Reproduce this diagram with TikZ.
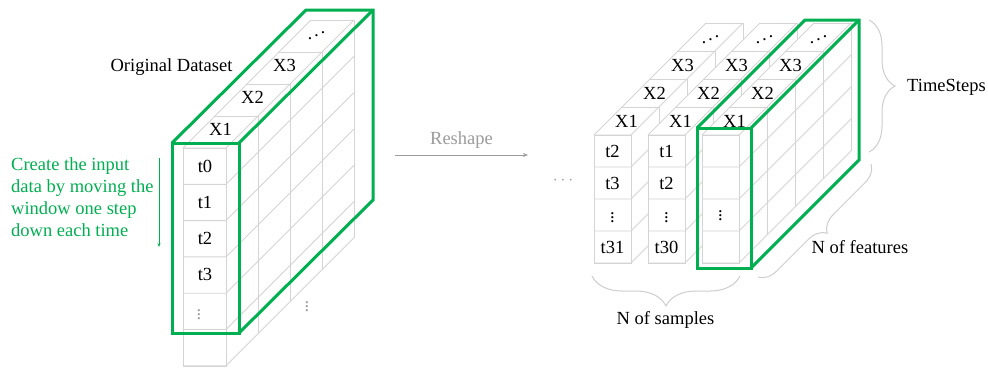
\documentclass[tikz,border=0pt]{standalone}
\usepackage{fontspec}
\setmainfont{Liberation Serif}
\usetikzlibrary{arrows.meta,decorations.pathreplacing}
\definecolor{boxgreen}{RGB}{0,176,80}
\definecolor{gridgray}{RGB}{212,212,212}
\definecolor{bracegray}{RGB}{205,205,205}
\definecolor{labelgray}{RGB}{155,155,155}
\newcommand{\revdots}{\reflectbox{$\ddots$}}

\begin{document}
\begin{tikzpicture}[x=1pt,y=-1pt,
  font=\fontsize{18.5}{22}\selectfont,
  grid/.style={gridgray, line width=0.9pt},
  window/.style={boxgreen, line width=3pt, line join=miter},
  curly/.style={bracegray, line width=1pt, decorate, decoration={brace, amplitude=#1}}]
\useasboundingbox (0,0) rectangle (988,368);

% original dataset block
\draw[grid] (183,148) rectangle (226,366);
\foreach \k in {0,...,6}
  \draw[grid] (183,148+36.3*\k) -- (226,148+36.3*\k) -- ++(128,-128);
\foreach \j in {0,...,4}
  \draw[grid] (183+32*\j,148-32*\j) -- ++(43,0) -- ++(0,218);
\draw[grid] (183,148) -- ++(128,-128);

\foreach \lab [count=\j from 0] in {X1,X2,X3,\revdots}
  \node (x\j) at (220.5+32*\j,129-32*\j) {\lab};
\foreach \lab [count=\k from 0] in {t0,t1,t2,t3}
  \node (t\k) at (205,166+36.3*\k) {\lab};
\node[labelgray] (tdots) at (199,312) {$\vdots$};
\node[labelgray] (sdots) at (307,304) {$\vdots$};

% moving window
\draw[window] (172,143) rectangle (239,333);
\draw[window] (172,143) -- ++(134,-133) -- ++(67,0) -- ++(0,190) -- (239,333);
\draw[window] (239,143) -- ++(134,-133);

\node (orig) at (171.5,67) {Original Dataset};
\node[boxgreen, align=left, anchor=west, inner sep=0pt] (note) at (11,197) {Create the input\\data by moving the\\window one step\\down each time};
\coordinate (down1) at (159,158);
\coordinate (down2) at (159,247);
\draw[boxgreen, line width=0.8pt, -{Stealth[length=4pt,width=3pt]}] (down1) -- (down2);

% reshape
\node[labelgray] (reshape) at (461.5,140) {Reshape};
\coordinate (rs1) at (395,155);
\coordinate (rs2) at (528,155);
\draw[labelgray, line width=1pt, -{Stealth[length=5pt,width=4pt]}] (rs1) -- (rs2);
\node[labelgray] (more) at (563,181) {$\cdots$};

% samples
\foreach \sx in {594,648,702} {
  \fill[white] (\sx,263) -- (\sx,135) -- ++(112,-112) -- ++(37,0) -- ++(0,128) -- ++(-112,112) -- cycle;
  \draw[grid] (\sx,135) rectangle ++(37,128);
  \foreach \k in {0,...,4}
    \draw[grid] (\sx,135+32*\k) -- ++(37,0) -- ++(112,-112);
  \foreach \j in {0,...,4}
    \draw[grid] (\sx+28*\j,135-28*\j) -- ++(37,0) -- ++(0,128);
  \draw[grid] (\sx,135) -- ++(112,-112);
  \foreach \lab [count=\j from 0] in {X1,X2,X3,\revdots}
    \node (s\sx x\j) at (\sx+32.5+28*\j,121-28*\j) {\lab};
}

\foreach \lab [count=\k from 0] in {t2,t3,$\vdots$,t31}
  \node (a\k) at (612.5,151+32*\k) {\lab};
\foreach \lab [count=\k from 0] in {t1,t2,$\vdots$,t30}
  \node (b\k) at (666.5,151+32*\k) {\lab};
\node (cdots) at (720.5,213) {$\vdots$};

\draw[window] (697,128) rectangle (751,268);
\draw[window] (697,128) -- ++(108,-108) -- ++(54,0) -- ++(0,140) -- (751,268);
\draw[window] (751,128) -- ++(108,-108);

% braces
\coordinate (ts1) at (869,20);
\coordinate (ts2) at (869,152);
\draw[curly=26pt] (ts1) -- (ts2);
\node[anchor=west, inner sep=0pt] (timesteps) at (907,87) {TimeSteps};

\coordinate (nf1) at (871,164);
\coordinate (nf2) at (758,277);
\draw[curly=18pt] (nf1) -- (nf2);
\node (features) at (860,247) {N of features};

\coordinate (ns1) at (740,276);
\coordinate (ns2) at (592,276);
\draw[curly=30pt] (ns1) -- (ns2);
\node (samples) at (665.5,320) {N of samples};
\end{tikzpicture}
\end{document}
